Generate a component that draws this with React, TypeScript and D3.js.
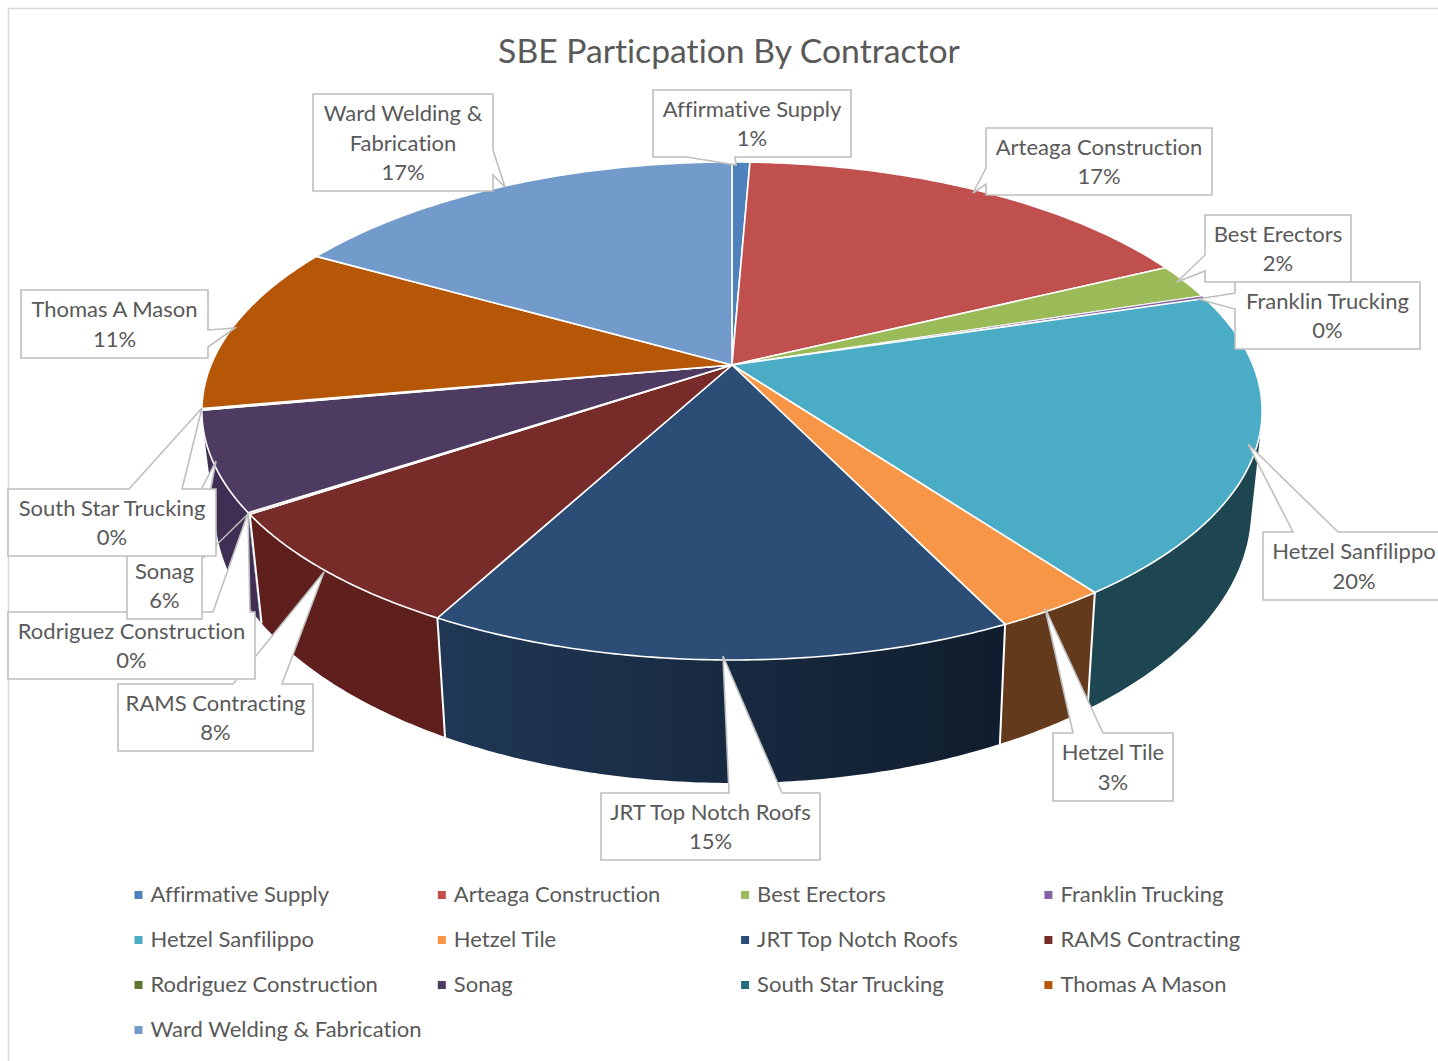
import React from 'react'
import * as d3 from 'd3'

const W = 1438
const H = 1061

const contractors = [
  'Affirmative Supply', 'Arteaga Construction', 'Best Erectors', 'Franklin Trucking',
  'Hetzel Sanfilippo', 'Hetzel Tile', 'JRT Top Notch Roofs', 'RAMS Contracting',
  'Rodriguez Construction', 'Sonag', 'South Star Trucking', 'Thomas A Mason',
  'Ward Welding & Fabrication',
]
const shares = [0.65, 17.15, 2.3, 0.2, 19.6, 2.9, 15.05, 7.75, 0.1, 6.4, 0.1, 11, 16.8]

const topColors = [
  '#4f81bd', '#c0504d', '#9bbb59', '#8064a2', '#4bacc6', '#f79646', '#2c4d75',
  '#772c2a', '#5f7530', '#4d3b62', '#276a7c', '#b65708', '#729aca',
]
const wallColors = [
  '#2f4d71', '#73302e', '#5d7035', '#4d3c61', '#1e4650', '#633a1b', 'url(#jrtWall)',
  '#5f201d', '#3f2f54', '#3f2f54', '#3f2f54', '#6d3405', '#445c79',
]

// callout boxes: box x0,y0,x1,y1 then wedge base a, tip, base b
type Callout = { box: number[]; a: number[]; tip: number[]; b: number[]; side: string; lines?: string[] }
const callouts: Callout[] = [
  { box: [653, 90, 851, 157], a: [735, 157], tip: [736, 165], b: [687, 157], side: 'bottom' },
  { box: [986, 128, 1212, 195], a: [986, 184], tip: [973, 193], b: [986, 168], side: 'left' },
  { box: [1205, 215, 1351, 282], a: [1205, 271], tip: [1177, 282], b: [1205, 255], side: 'left' },
  { box: [1235, 282, 1420, 349], a: [1235, 309], tip: [1198, 299], b: [1235, 293], side: 'left' },
  { box: [1263, 532, 1446, 600], a: [1293, 532], tip: [1248, 444], b: [1338, 532], side: 'top' },
  { box: [1053, 733, 1173, 801], a: [1073, 733], tip: [1045, 608], b: [1103, 733], side: 'top' },
  { box: [601, 793, 820, 860], a: [729, 793], tip: [723, 656], b: [782, 793], side: 'top' },
  { box: [118, 684, 313, 751], a: [233, 684], tip: [324, 572], b: [282, 684], side: 'top' },
  { box: [8, 612, 255, 679], a: [213, 612], tip: [248, 513], b: [250, 612], side: 'top' },
  { box: [127, 552, 202, 619], a: [169, 552], tip: [216, 461], b: [199, 552], side: 'top' },
  { box: [8, 489, 216, 556], a: [129, 489], tip: [202, 408], b: [182, 489], side: 'top' },
  { box: [21, 290, 208, 358], a: [208, 347], tip: [235, 328], b: [208, 330], side: 'right' },
  { box: [313, 94, 493, 191], a: [493, 175], tip: [505, 187], b: [493, 150], side: 'right', lines: ['Ward Welding &', 'Fabrication'] },
]

// top disc as a projected circle, apex sits above the ellipse centre
const apex = [732, 365]
const persp = 0.1847
const discA = 521
const discB = 240.5

function rim(theta: number) {
  const w = 1 + persp * Math.cos(theta)
  return [apex[0] + (discA * Math.sin(theta)) / w, apex[1] - (discB * Math.cos(theta)) / w]
}

// floor ellipse is a linear remap of the top one
function floor(p: number[]) {
  return [732 + ((p[0] - 731) * 518) / 530, 510 + ((p[1] - 411) * 273) / 249]
}

const pieData = d3.pie<number>().sort(null).value(d => d)(shares)
const percent = d3.format('.0%')
const total = d3.sum(shares)

function rimPoints(a0: number, a1: number) {
  const n = Math.max(2, Math.ceil((a1 - a0) / 0.01))
  return d3.range(n + 1).map(i => rim(a0 + ((a1 - a0) * i) / n))
}

function topPath(a0: number, a1: number) {
  return 'M' + [apex, ...rimPoints(a0, a1)].map(p => p.join(',')).join('L') + 'Z'
}

function wallPath(a0: number, a1: number) {
  const pts = rimPoints(a0, a1)
  let d = ''
  for (let i = 0; i < pts.length - 1; i++) {
    let q = [pts[i], pts[i + 1], floor(pts[i + 1]), floor(pts[i])] as [number, number][]
    if (d3.polygonArea(q) < 0) q = q.reverse()
    d += 'M' + q.map(p => p.join(',')).join('L') + 'Z'
  }
  return d
}

function calloutPath(c: Callout) {
  const [x0, y0, x1, y1] = c.box
  const pts: number[][] = [[x0, y0]]
  if (c.side === 'top') pts.push(c.a, c.tip, c.b)
  pts.push([x1, y0])
  if (c.side === 'right') pts.push(c.b, c.tip, c.a)
  pts.push([x1, y1])
  if (c.side === 'bottom') pts.push(c.a, c.tip, c.b)
  pts.push([x0, y1])
  if (c.side === 'left') pts.push(c.a, c.tip, c.b)
  return 'M' + pts.map(p => p.join(',')).join('L') + 'Z'
}

const legendCols = 4
const legendX = d3.scaleLinear().domain([0, 1]).range([134.5, 437.8])
const legendY = d3.scaleLinear().domain([0, 1]).range([895, 940])

const FONT = 'Lato, "Open Sans", sans-serif'
const INK = '#595959'
const EDGE = '#bfbfbf'

export default function App() {
  const fade = d3.scaleLinear<string>().domain([446, 998]).range(['#1f3754', '#101d2e'])
  // back walls first so the front ones win at the silhouette
  const wallOrder = d3.range(shares.length).sort((a, b) => {
    const mid = (i: number) => rim((pieData[i].startAngle + pieData[i].endAngle) / 2)[1]
    return mid(a) - mid(b)
  })
  return (
    <svg width={W} height={H} style={{ position: 'absolute', left: 0, top: 0, display: 'block', fontVariantLigatures: 'none' }} fontFamily={FONT}>
      <defs>
        <linearGradient id="jrtWall" gradientUnits="userSpaceOnUse" x1={446} x2={998} y1={0} y2={0}>
          <stop offset="0" stopColor={fade(446)} />
          <stop offset="0.5" stopColor={fade(722)} />
          <stop offset="1" stopColor={fade(998)} />
        </linearGradient>
      </defs>
      <rect width={W} height={H} fill="#fff" />
      <path d={`M8.5,${H}V8.5H${W}`} fill="none" stroke="#d9d9d9" strokeWidth={1.5} />

      <text x={729} y={63} textAnchor="middle" fontSize={33.7} fill={INK}>SBE Particpation By Contractor</text>

      <g>
        {wallOrder.map(i => (
          <path key={i} d={wallPath(pieData[i].startAngle, pieData[i].endAngle)} fill={wallColors[i]} />
        ))}
        {pieData.filter((s, i) => Math.cos(s.startAngle) < -0.4 && shares[i - 1] > 0.15).map((s, i) => {
          const p = rim(s.startAngle)
          const q = floor(p)
          return <line key={i} x1={p[0]} y1={p[1]} x2={q[0]} y2={q[1]} stroke="#fff" strokeWidth={2} />
        })}
        {pieData.map((s, i) => (
          <path key={i} d={topPath(s.startAngle, s.endAngle)} fill={topColors[i]} stroke="#fff" strokeWidth={i === 3 ? 0.8 : 1.6} strokeLinejoin="round" />
        ))}
      </g>

      <line x1={203} y1={558} x2={248} y2={514} stroke={EDGE} strokeWidth={1.5} />
      {callouts.map((c, i) => {
        const [x0, y0, x1, y1] = c.box
        const lines = [...(c.lines ?? [contractors[i]]), percent(shares[i] / total)]
        const cx = (Math.max(x0, 8) + x1) / 2
        const cy = (y0 + y1) / 2
        const textX = i === 4 ? 1354 : cx
        return (
          <g key={i}>
            <path d={calloutPath(c)} fill="#fff" stroke={EDGE} strokeWidth={1.6} />
            {lines.map((t, j) => (
              <text key={j} x={textX} y={cy + (j - (lines.length - 1) / 2) * 29.3 + 8} textAnchor="middle" fontSize={22} fill={INK}>{t}</text>
            ))}
          </g>
        )
      })}

      <g>
        {contractors.map((name, i) => {
          const x = legendX(i % legendCols)
          const y = legendY(Math.floor(i / legendCols))
          return (
            <g key={name}>
              <rect x={x} y={y - 4} width={8} height={8} fill={topColors[i]} />
              <text x={x + 16} y={y + 7} fontSize={22} fill={INK}>{name}</text>
            </g>
          )
        })}
      </g>
    </svg>
  )
}
